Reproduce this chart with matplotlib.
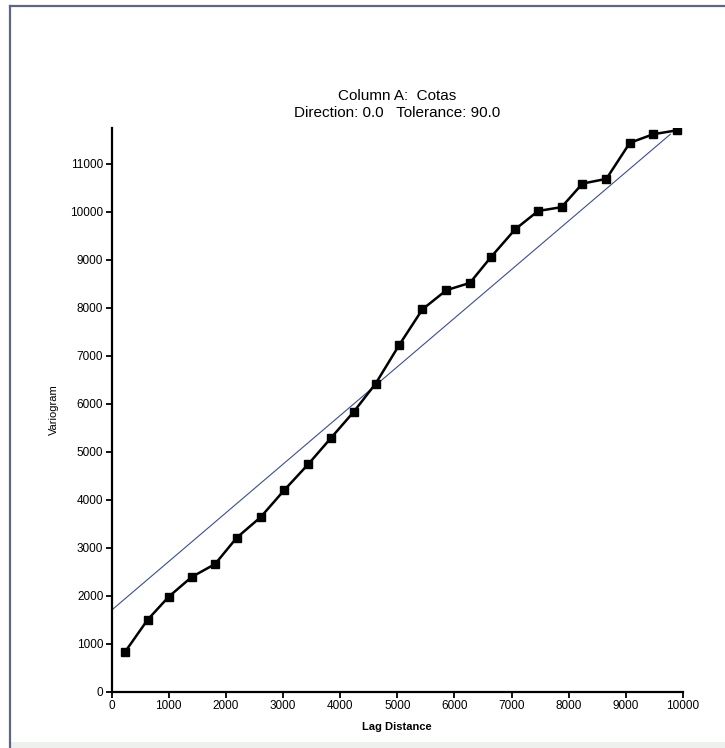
import matplotlib.pyplot as plt
from matplotlib.lines import Line2D
from matplotlib.patches import Rectangle

plt.rcParams['font.family'] = ['Liberation Sans', 'DejaVu Sans']

# experimental variogram points
lag = [235, 630, 1000, 1400, 1810, 2190, 2610, 3020, 3440, 3840, 4235, 4620,
       5030, 5440, 5860, 6270, 6640, 7065, 7465, 7875, 8240, 8660, 9070, 9480, 9890]
gamma = [830, 1500, 1980, 2390, 2660, 3210, 3640, 4200, 4740, 5290, 5830, 6420,
         7220, 7970, 8370, 8520, 9060, 9640, 10020, 10100, 10590, 10690, 11440, 11620, 11700]

# fitted linear model (end points)
model_x = [0, 9780]
model_y = [1700, 11620]

xticks = [0, 1000, 2000, 3000, 4000, 5000, 6000, 7000, 8000, 9000, 10000]
yticks = [0, 1000, 2000, 3000, 4000, 5000, 6000, 7000, 8000, 9000, 10000, 11000]

fig = plt.figure(figsize=(7.25, 7.48), dpi=100)
ax = fig.add_axes([0.154, 0.0753, 0.788, 0.7536])

# border of the scanned page: dark left/top edge, pale band at the bottom
edge = '#5b6785'
fig.lines.append(Line2D([10 / 725, 10 / 725], [0, 1 - 6 / 748], transform=fig.transFigure,
                        color=edge, linewidth=1.6))
fig.lines.append(Line2D([10 / 725, 1], [1 - 6 / 748, 1 - 6 / 748], transform=fig.transFigure,
                        color=edge, linewidth=1.6))
fig.patches.append(Rectangle((11 / 725, 0), 1, 6 / 748, transform=fig.transFigure,
                             facecolor='#eef0ee', edgecolor='none'))

ax.plot(model_x, model_y, color='#3a4c9e', linewidth=0.8)
ax.plot(lag, gamma, color='black', linewidth=1.8, marker='s', markersize=6)

ax.set_xlim(0, 10000)
ax.set_ylim(0, 11750)
ax.set_xticks(xticks)
ax.set_yticks(yticks)
ax.tick_params(labelsize=8.5, length=4, width=1.3, pad=2)
for s in ['top', 'right']:
    ax.spines[s].set_visible(False)
for s in ['left', 'bottom']:
    ax.spines[s].set_linewidth(1.6)
ax.spines['bottom'].set_bounds(0, 10000)

ax.set_xlabel('Lag Distance', fontsize=8, fontweight='bold', labelpad=7)
ax.set_ylabel('Variogram', fontsize=8, labelpad=8)
ax.set_title('Column A:  Cotas\nDirection: 0.0   Tolerance: 90.0', fontsize=11,
             linespacing=1.25, pad=8)

plt.savefig('out.png', dpi=100)
